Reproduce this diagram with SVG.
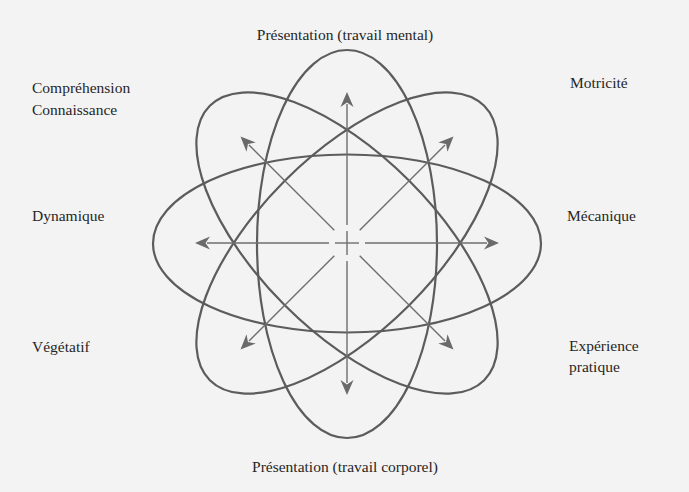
<svg xmlns="http://www.w3.org/2000/svg" width="689" height="492" viewBox="0 0 689 492">
<style>
.bg{fill:#f3f3f3}
.ell{fill:none;stroke:#5c5c5c;stroke-width:2.2}
.ax{stroke:#6e6e6e;stroke-width:1.4;fill:none;marker-end:url(#ah)}
.cr{stroke:#6e6e6e;stroke-width:1.4}
.lb{font-family:"Liberation Serif","Times New Roman",serif;font-size:15.5px;fill:#262626}
</style>
<defs>
<marker id="ah" markerUnits="userSpaceOnUse" markerWidth="18" markerHeight="14" viewBox="-4 -7 18 14" refX="0" refY="0" orient="auto">
<path d="M12,0 L-3,-6.5 L1.5,0 L-3,6.5 Z" fill="#6a6a6a"/>
</marker>
</defs>
<rect class="bg" x="0" y="0" width="689" height="492"/>
<g id="ellipses">
<ellipse class="ell" cx="347" cy="243.5" rx="194" ry="89"/>
<ellipse class="ell" cx="347" cy="244" rx="90" ry="194"/>
<ellipse class="ell" cx="347" cy="243" rx="194" ry="88" transform="rotate(45 347 243)"/>
<ellipse class="ell" cx="347" cy="243" rx="194" ry="88" transform="rotate(-45 347 243)"/>
</g>
<g id="connectors">
<line class="ax" x1="365" y1="243" x2="487" y2="243"/>
<line class="ax" x1="329" y1="243" x2="207" y2="243"/>
<line class="ax" x1="347" y1="225" x2="347" y2="104"/>
<line class="ax" x1="347" y1="261" x2="347" y2="383"/>
<line class="ax" x1="359.7" y1="230.3" x2="445" y2="145"/>
<line class="ax" x1="334.3" y1="230.3" x2="249" y2="145"/>
<line class="ax" x1="359.7" y1="255.7" x2="445" y2="341"/>
<line class="ax" x1="334.3" y1="255.7" x2="249" y2="341"/>
<line class="cr" x1="335" y1="243" x2="359" y2="243"/>
<line class="cr" x1="347" y1="231" x2="347" y2="255"/>
</g>
<g id="top"><text class="lb" x="345" y="40" text-anchor="middle">Présentation (travail mental)</text></g>
<g id="bottom"><text class="lb" x="345" y="472" text-anchor="middle">Présentation (travail corporel)</text></g>
<g id="comprehension"><text class="lb" x="32" y="93">Compréhension</text><text class="lb" x="32" y="115">Connaissance</text></g>
<g id="motricite"><text class="lb" x="570" y="88">Motricité</text></g>
<g id="dynamique"><text class="lb" x="32" y="221">Dynamique</text></g>
<g id="mecanique"><text class="lb" x="567" y="221">Mécanique</text></g>
<g id="vegetatif"><text class="lb" x="32" y="352">Végétatif</text></g>
<g id="experience"><text class="lb" x="569" y="351">Expérience</text><text class="lb" x="569" y="372">pratique</text></g>
</svg>
